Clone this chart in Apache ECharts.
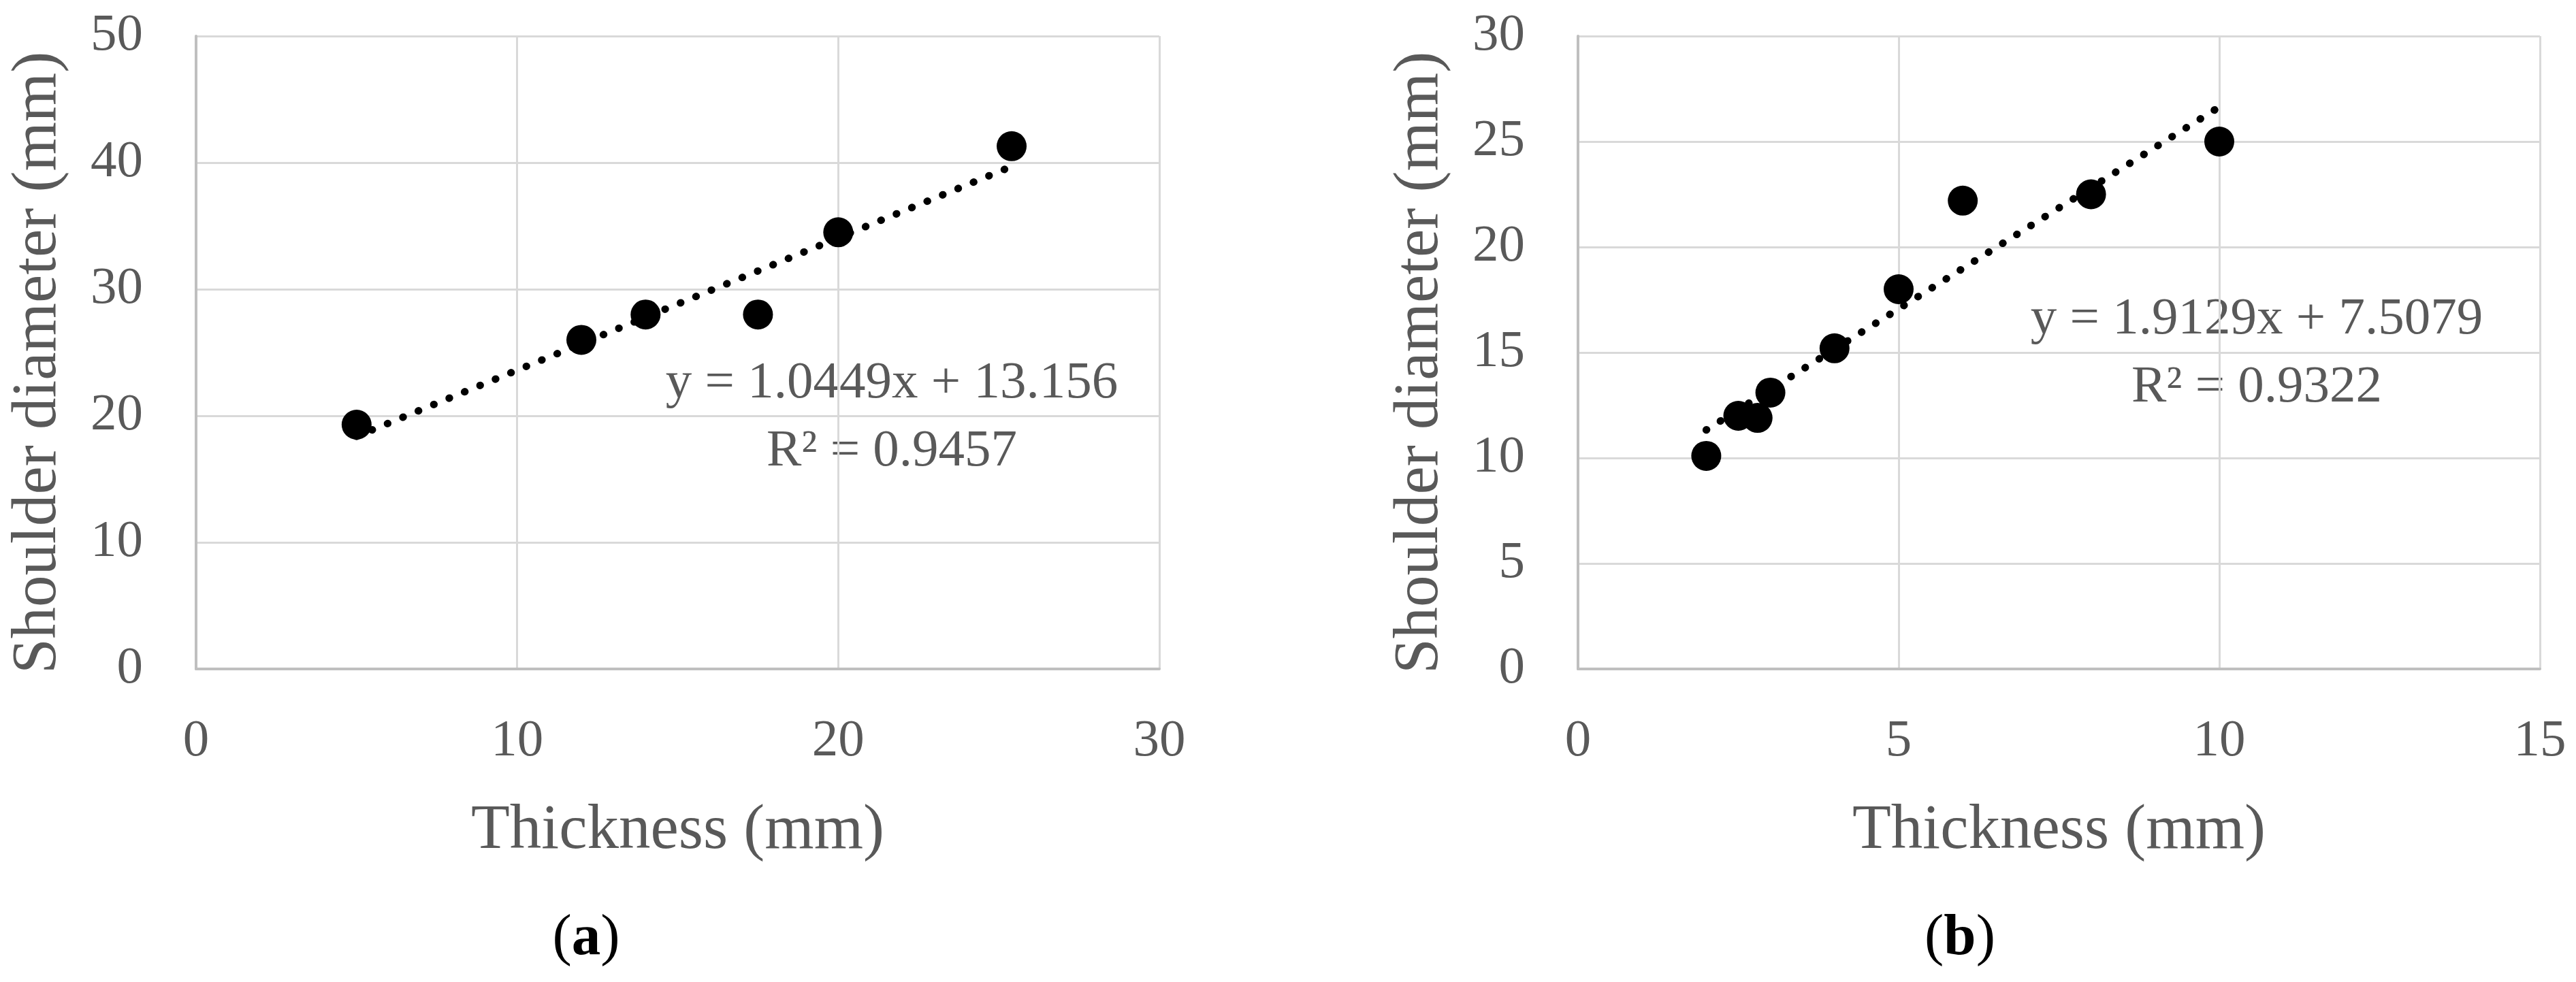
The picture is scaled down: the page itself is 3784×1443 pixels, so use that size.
<!DOCTYPE html>
<html>
<head>
<meta charset="utf-8">
<script src="https://cdn.jsdelivr.net/npm/echarts@6/dist/echarts.min.js"></script>
<style>
html, body { margin: 0; padding: 0; background: #fff; }
#main { width: 3784px; height: 1443px; }
</style>
</head>
<body>
<div id="main"></div>
<script>
// panel (a)
var thickA = [5, 12, 14, 17.5, 20, 25.4];
var shoulderA = [19.3, 26, 28, 28, 34.5, 41.3];
var trendA = [[5, 18.38], [25.4, 39.70]];
var eqA = ['y = 1.0449x + 13.156', 'R² = 0.9457'];
var xTicksA = [0, 10, 20, 30];
var yTicksA = [0, 10, 20, 30, 40, 50];

// panel (b)
var thickB = [2, 2.5, 2.8, 3, 4, 5, 6, 8, 10];
var shoulderB = [10.1, 12, 11.9, 13.1, 15.2, 18, 22.2, 22.5, 25];
var trendB = [[2, 11.33], [10, 26.64]];
var eqB = ['y = 1.9129x + 7.5079', 'R² = 0.9322'];
var xTicksB = [0, 5, 10, 15];
var yTicksB = [0, 5, 10, 15, 20, 25, 30];

var xName = 'Thickness (mm)';
var yName = 'Shoulder diameter (mm)';

var FONT = 'Liberation Serif';
var TXT = '#595959';

function pairs(xs, ys) {
    var out = [];
    for (var i = 0; i < xs.length; i++) {
        out.push([xs[i], ys[i]]);
    }
    return out;
}

function xAxisFor(ticks, idx) {
    return {
        type : 'value',
        gridIndex : idx,
        min : ticks[0],
        max : ticks[ticks.length - 1],
        interval : ticks[1] - ticks[0],
        name : xName,
        nameLocation : 'middle',
        nameGap : 192,
        nameTextStyle : { fontFamily : FONT, fontSize : 93, color : TXT },
        axisLine : { show : true, lineStyle : { color : '#bfbfbf', width : 4 } },
        axisTick : { show : false },
        axisLabel : { fontFamily : FONT, fontSize : 77, color : TXT, margin : 68 },
        splitLine : { show : true, lineStyle : { color : '#d9d9d9', width : 3 } }
    };
}

function yAxisFor(ticks, idx) {
    return {
        type : 'value',
        gridIndex : idx,
        min : ticks[0],
        max : ticks[ticks.length - 1],
        interval : ticks[1] - ticks[0],
        name : yName,
        nameLocation : 'middle',
        nameRotate : 90,
        nameGap : 185,
        nameTextStyle : { fontFamily : FONT, fontSize : 93, color : TXT, padding : [0, 30, 0, 0] },
        axisLine : { show : true, lineStyle : { color : '#bfbfbf', width : 4 } },
        axisTick : { show : false },
        axisLabel : { fontFamily : FONT, fontSize : 77, color : TXT, margin : 78 },
        splitLine : { show : true, lineStyle : { color : '#d9d9d9', width : 3 } }
    };
}

function scatterFor(data, idx) {
    return {
        type : 'scatter',
        xAxisIndex : idx,
        yAxisIndex : idx,
        data : data,
        symbol : 'circle',
        symbolSize : 44,
        itemStyle : { color : '#000', opacity : 1 },
        z : 3
    };
}

function trendFor(data, idx) {
    return {
        type : 'line',
        xAxisIndex : idx,
        yAxisIndex : idx,
        data : data,
        showSymbol : false,
        symbol : 'none',
        lineStyle : { color : '#000', width : 11, type : [0.5, 24], cap : 'round' },
        z : 4
    };
}

function eqText(lines, cx, y1, y2) {
    return [
        { type : 'text', x : cx, y : y1, style : { text : lines[0], fontFamily : FONT, fontSize : 77, fill : TXT, align : 'center', verticalAlign : 'middle' } },
        { type : 'text', x : cx, y : y2, style : { text : lines[1], fontFamily : FONT, fontSize : 77, fill : TXT, align : 'center', verticalAlign : 'middle' } }
    ];
}

function panelLabel(letter, cx, cy) {
    return {
        type : 'text',
        x : cx,
        y : cy,
        style : {
            text : '{p|(}{b|' + letter + '}{p|)}',
            align : 'center',
            verticalAlign : 'middle',
            rich : {
                p : { fontFamily : FONT, fontSize : 85, fill : '#000' },
                b : { fontFamily : FONT, fontSize : 85, fontWeight : 'bold', fill : '#000' }
            }
        }
    };
}

var chart = echarts.init(document.getElementById('main'));
var option = {
    backgroundColor : '#fff',
    animation : false,
    grid : [
        { left : 288, right : 3784 - 1703, top : 53, bottom : 1443 - 983 },
        { left : 2318, right : 3784 - 3731, top : 53, bottom : 1443 - 983 }
    ],
    xAxis : [xAxisFor(xTicksA, 0), xAxisFor(xTicksB, 1)],
    yAxis : [yAxisFor(yTicksA, 0), yAxisFor(yTicksB, 1)],
    series : [
        scatterFor(pairs(thickA, shoulderA), 0),
        trendFor(trendA, 0),
        scatterFor(pairs(thickB, shoulderB), 1),
        trendFor(trendB, 1)
    ],
    graphic : [].concat(
        eqText(eqA, 1310, 564, 664),
        eqText(eqB, 3315, 470, 570),
        [panelLabel('a', 861, 1380), panelLabel('b', 2879, 1380)]
    )
};
chart.setOption(option);
</script>
</body>
</html>
